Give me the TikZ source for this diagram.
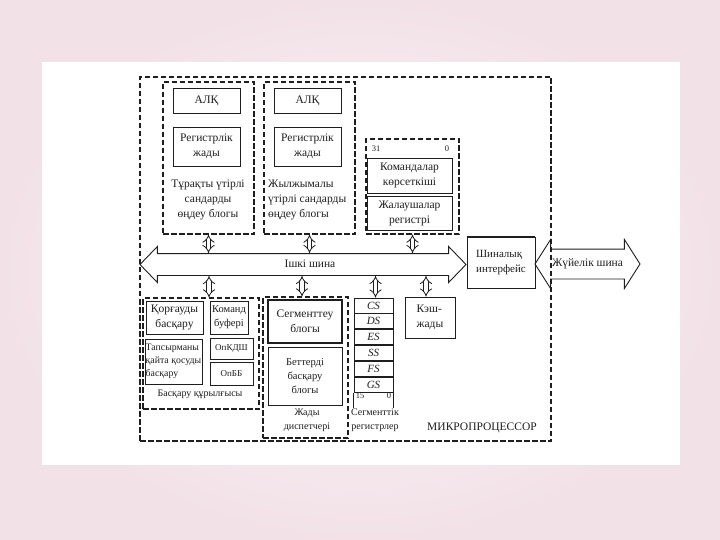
\documentclass[tikz,border=0pt]{standalone}
\usepackage{fontspec}
\setmainfont{Liberation Serif}
\usetikzlibrary{arrows.meta,positioning,shapes.arrows}
\definecolor{SlideRose}{HTML}{F2E2E8}
\definecolor{SlideBlush}{HTML}{FAF5F7}
\definecolor{DiagInk}{HTML}{1E1E1E}

\begin{document}
\begin{tikzpicture}[
    x=1pt, y=-1pt,
    node distance=0pt,
    every node/.style={font=\fontsize{11.5}{15}\selectfont, text=DiagInk},
    group/.style={
        rectangle,
        draw=DiagInk,
        dash pattern=on 5.5pt off 2.5pt,
        line width=1.1pt,
        inner sep=0pt
    },
    unit/.style={
        rectangle,
        draw=DiagInk,
        line width=0.9pt,
        fill=white,
        align=center,
        inner sep=0pt
    },
    alubox/.style={unit, minimum width=67pt, minimum height=25pt},
    regbox/.style={unit, minimum width=67pt, minimum height=39pt},
    segreg/.style={unit, minimum width=39pt, minimum height=15pt, font=\fontsize{11}{12}\selectfont\itshape},
    caption/.style={font=\fontsize{10}{14}\selectfont, align=center, inner sep=0pt},
    busarrow/.style={
        double arrow,
        draw=DiagInk,
        line width=0.9pt,
        fill=white,
        text height=7pt,
        text depth=2pt,
        inner xsep=0pt
    },
    link/.style={
        {Implies}-{Implies},
        double=white,
        double distance=3.5pt,
        line width=0.8pt,
        draw=DiagInk
    }
]

% slide background
\shade[inner color=SlideBlush, outer color=SlideRose] (0,0) rectangle (720,540);
\fill[white] (42,62) rectangle (680,465);
\useasboundingbox (0,0) rectangle (720,540);

% buses
\node[busarrow, minimum height=326pt, double arrow tip angle=92, double arrow head extend=7pt, inner ysep=6pt] (bus) at (303,264.5) {\hspace*{14pt}Ішкі шина};
\node[unit, minimum width=68pt, minimum height=51pt, align=left, font=\fontsize{11}{15}\selectfont] (iface) at (501,263) {Шиналық\\интерфейс};
\draw[line width=2.2pt, DiagInk] (iface.north west) -- (iface.north east);
\node[busarrow, fill=none, minimum height=105pt, double arrow tip angle=115, double arrow head extend=9.5pt, inner ysep=10pt] (sysbus) at (587.5,264) {Жүйелік шина};

% microprocessor frame
\node[group, minimum width=411pt, minimum height=364pt] (mp) at (345.5,259) {};
\node[caption, font=\fontsize{11.5}{13}\selectfont] (mplabel) at (482,428) {МИКРОПРОЦЕССОР};

% floating point units
\node[group, minimum width=91pt, minimum height=152pt] (fpu1) at (208.5,158) {};
\node[alubox] (alu1) at (206.5,100.5) {АЛҚ};
\node[regbox] (reg1) at (206.5,146.5) {Регистрлік\\жады};
\node[align=center, inner sep=0pt] (fpu1text) at (208,200) {Тұрақты үтірлі\\сандарды\\өңдеу блогы};

\node[group, minimum width=91pt, minimum height=152pt] (fpu2) at (309.5,158) {};
\node[alubox] (alu2) at (307.5,100.5) {АЛҚ};
\node[regbox] (reg2) at (307.5,146.5) {Регистрлік\\жады};
\node[align=left, anchor=west, inner sep=0pt] (fpu2text) at (268,200) {Жылжымалы\\үтірлі сандарды\\өңдеу блогы};

% instruction pointer and flags
\node[group, minimum width=93pt, minimum height=95pt] (ptrs) at (412.5,186.5) {};
\node[caption, font=\fontsize{8.5}{9}\selectfont] (ptrhi) at (376,149) {31};
\node[caption, font=\fontsize{8.5}{9}\selectfont] (ptrlo) at (447,149) {0};
\node[unit, minimum width=85pt, minimum height=35pt] (ip) at (409.5,175.5) {Командалар\\көрсеткіші};
\node[unit, minimum width=85pt, minimum height=34pt] (flags) at (409.5,213) {Жалаушалар\\регистрі};

% control unit
\node[group, minimum width=116pt, minimum height=111pt] (ctrl) at (201,353.5) {};
\node[unit, minimum width=57pt, minimum height=33pt] (prot) at (174.5,317.5) {Қорғауды\\басқару};
\node[unit, minimum width=38pt, minimum height=33pt, font=\fontsize{10.5}{14}\selectfont] (cbuf) at (229,317.5) {Команд\\буфері};
\node[unit, minimum width=57pt, minimum height=45pt, align=left, font=\fontsize{9.8}{13}\selectfont] (task) at (173.5,361.5) {Тапсырманы\\қайта қосуды\\басқару};
\node[unit, minimum width=43pt, minimum height=21pt, font=\fontsize{9}{11}\selectfont] (opkdsh) at (231.5,348.5) {ОпКДШ};
\node[unit, minimum width=43pt, minimum height=23pt, font=\fontsize{9}{11}\selectfont] (opbb) at (231.5,373.5) {ОпББ};
\node[caption] (ctrltext) at (200,394) {Басқару құрылғысы};

% memory manager
\node[group, minimum width=85pt, minimum height=141pt] (mmu) at (305.5,367.5) {};
\node[unit, minimum width=74pt, minimum height=43pt, line width=1.4pt] (seg) at (305,321.5) {Сегменттеу\\блогы};
\node[unit, minimum width=74pt, minimum height=58pt, font=\fontsize{10.5}{14}\selectfont] (page) at (305,376) {Беттерді\\басқару\\блогы};
\node[caption] (mmutext) at (307,420) {Жады\\диспетчері};

% segment registers
\node[segreg] (cs) at (373.5,305.5) {CS};
\node[segreg, below=of cs] (ds) {DS};
\node[segreg, below=of ds] (es) {ES};
\node[segreg, below=of es] (ss) {SS};
\node[segreg, below=of ss] (fs) {FS};
\node[segreg, below=of fs] (gs) {GS};
\draw[line width=0.9pt, DiagInk] (gs.south west) -- ([yshift=-15pt]gs.south west);
\draw[line width=0.9pt, DiagInk] (gs.south east) -- ([yshift=-15pt]gs.south east);
\node[caption, font=\fontsize{8.5}{9}\selectfont] (seghi) at (360,396) {15};
\node[caption, font=\fontsize{8.5}{9}\selectfont] (seglo) at (389,396) {0};
\node[caption] (segtext) at (375,420) {Сегменттік\\регистрлер};

% cache
\node[unit, minimum width=50pt, minimum height=41pt, align=left] (cache) at (430,317.5) {Кэш-\\жады};

% links to the internal bus
\draw[link] (fpu1.south) -- (fpu1.south |- bus.north);
\draw[link] (fpu2.south) -- (fpu2.south |- bus.north);
\draw[link] (ptrs.south) -- (ptrs.south |- bus.north);
\draw[link] ([xshift=8pt]ctrl.north |- bus.south) -- ([xshift=8pt]ctrl.north);
\draw[link] ([xshift=-3.5pt]mmu.north |- bus.south) -- ([xshift=-3.5pt]mmu.north);
\draw[link] ([xshift=2pt]cs.north |- bus.south) -- ([xshift=2pt]cs.north);
\draw[link] ([xshift=-4pt]cache.north |- bus.south) -- ([xshift=-4pt]cache.north);

\end{tikzpicture}
\end{document}
